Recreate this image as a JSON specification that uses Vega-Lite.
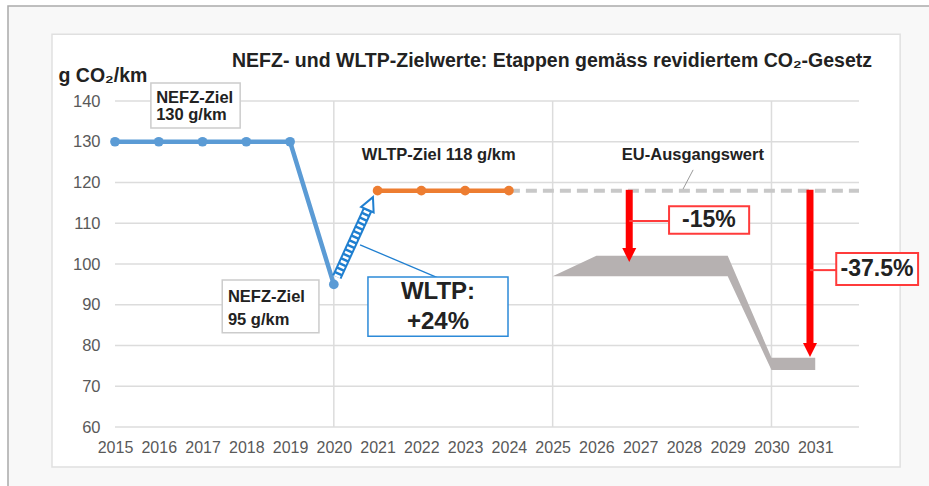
{
  "$schema": "https://vega.github.io/schema/vega-lite/v6.json",
  "width": 744,
  "height": 326,
  "autosize": {"type": "none"},
  "padding": {"left": 115, "top": 101, "right": 70, "bottom": 59},
  "background": "#ffffff",
  "config": {"view": {"stroke": null}, "font": "Liberation Sans"},
  "title": {
    "text": "NEFZ- und WLTP-Zielwerte: Etappen gemäss revidiertem CO₂-Gesetz",
    "anchor": "start",
    "frame": "group",
    "dx": 117,
    "dy": 66,
    "offset": 0,
    "fontSize": 19.5,
    "fontWeight": "bold",
    "color": "#222222",
    "font": "Liberation Sans"
  },
  "datasets": {
    "frame": [{"x": 2012.555, "x2": 2040, "y": 163.3, "y2": 30}],
    "panel": [{"x": 2013.56, "x2": 2032.94, "y": 156.4, "y2": 50.2}],
    "hgrid": [{"y": 60}, {"y": 70}, {"y": 80}, {"y": 90}, {"y": 100}, {"y": 110}, {"y": 120}, {"y": 130}, {"y": 140}],
    "vgrid": [{"x": 2020}, {"x": 2025}, {"x": 2030}],
    "band": [
      {"x": 2025, "y": 97, "y2": 97},
      {"x": 2026, "y": 97, "y2": 102},
      {"x": 2029, "y": 97, "y2": 102},
      {"x": 2030, "y": 74, "y2": 77},
      {"x": 2031, "y": 74, "y2": 77}
    ],
    "eu": [{"x": 2024, "y": 118}, {"x": 2032, "y": 118}],
    "nefz": [
      {"x": 2015, "y": 130}, {"x": 2016, "y": 130}, {"x": 2017, "y": 130},
      {"x": 2018, "y": 130}, {"x": 2019, "y": 130}, {"x": 2020, "y": 95}
    ],
    "wltp": [{"x": 2021, "y": 118}, {"x": 2022, "y": 118}, {"x": 2023, "y": 118}, {"x": 2024, "y": 118}],
    "hatch": [{"x": 2020.07, "y": 96.8, "x2": 2020.77, "y2": 113.3}],
    "hatchHead": [{"x": 2020.83, "y": 114.87}],
    "blueConn": [{"x": 2020.6, "y": 104.7, "x2": 2022.38, "y2": 96.6}],
    "grayConn": [{"x": 2028.21, "y": 123.1, "x2": 2027.98, "y2": 118.4}],
    "redShaft": [
      {"x": 2026.75, "y": 118.2, "x2": 2026.75, "y2": 103.5},
      {"x": 2030.88, "y": 118.2, "x2": 2030.88, "y2": 80.5}
    ],
    "redHead": [{"x": 2026.75, "y": 102.2}, {"x": 2030.88, "y": 78.9}],
    "redConn": [
      {"x": 2026.75, "y": 110.55, "x2": 2027.66, "y2": 110.55},
      {"x": 2030.88, "y": 98.5, "x2": 2031.48, "y2": 98.5}
    ],
    "grayBox": [
      {"x": 2015.82, "x2": 2017.86, "y": 144.4, "y2": 133.4},
      {"x": 2017.45, "x2": 2019.66, "y": 96.1, "y2": 83.1}
    ],
    "blueBox": [{"x": 2020.78, "x2": 2023.98, "y": 96.8, "y2": 82.3}],
    "redBox": [
      {"x": 2027.66, "x2": 2029.49, "y": 114.2, "y2": 107.4},
      {"x": 2031.48, "x2": 2033.35, "y": 102.7, "y2": 94.85}
    ],
    "labels": [
      {"x": 2015.94, "y": 140.7, "t": "NEFZ-Ziel"},
      {"x": 2015.94, "y": 136.6, "t": "130 g/km"},
      {"x": 2017.58, "y": 91.9, "t": "NEFZ-Ziel"},
      {"x": 2017.58, "y": 86.3, "t": "95 g/km"},
      {"x": 2020.64, "y": 126.75, "t": "WLTP-Ziel 118 g/km"},
      {"x": 2026.58, "y": 126.75, "t": "EU-Ausgangswert"}
    ],
    "bigLabels": [
      {"x": 2022.38, "y": 93.1, "t": "WLTP:"},
      {"x": 2022.38, "y": 85.8, "t": "+24%"}
    ],
    "pctLabels": [
      {"x": 2028.57, "y": 110.8, "t": "-15%"},
      {"x": 2032.41, "y": 98.8, "t": "-37.5%"}
    ]
  },
  "layer": [
    {
      "data": {"name": "frame"},
      "mark": {"type": "rect", "fill": "#f8f8f8", "stroke": "#aaaaaa", "strokeWidth": 1.5},
      "encoding": {
        "x": {"field": "x", "type": "quantitative", "scale": {"domain": [2015, 2032], "nice": false, "zero": false},
          "axis": {"title": null, "values": [2015, 2016, 2017, 2018, 2019, 2020, 2021, 2022, 2023, 2024, 2025, 2026, 2027, 2028, 2029, 2030, 2031],
            "format": "d", "grid": false, "ticks": false, "domain": false, "labelPadding": 12, "labelFontSize": 16,
            "labelColor": "#595959", "labelFont": "Liberation Sans", "labelOverlap": false, "labelFlush": false, "zindex": 1}},
        "x2": {"field": "x2"},
        "y": {"field": "y", "type": "quantitative", "scale": {"domain": [60, 140], "nice": false, "zero": false},
          "axis": {"title": "g CO₂/km", "values": [60, 70, 80, 90, 100, 110, 120, 130, 140], "grid": false, "ticks": false, "domain": false,
            "labelPadding": 15, "labelFontSize": 16.5, "labelColor": "#595959", "labelFont": "Liberation Sans", "zindex": 1, "labelFlush": false,
            "titleAngle": 0, "titleAlign": "left", "titleBaseline": "middle", "titleX": -57, "titleY": -26,
            "titleFontSize": 19.5, "titleFont": "Liberation Sans", "titleFontWeight": "bold", "titleColor": "#222222"}},
        "y2": {"field": "y2"}
      }
    },
    {
      "data": {"name": "panel"},
      "mark": {"type": "rect", "fill": "#ffffff", "stroke": "#e0e0e0", "strokeWidth": 1.5},
      "encoding": {
        "x": {"field": "x", "type": "quantitative"}, "x2": {"field": "x2"},
        "y": {"field": "y", "type": "quantitative"}, "y2": {"field": "y2"}
      }
    },
    {
      "data": {"name": "hgrid"},
      "mark": {"type": "rule", "color": "#dcdcdc", "strokeWidth": 1.5},
      "encoding": {"y": {"field": "y", "type": "quantitative"}}
    },
    {
      "data": {"name": "vgrid"},
      "mark": {"type": "rule", "color": "#dcdcdc", "strokeWidth": 1.5},
      "encoding": {"x": {"field": "x", "type": "quantitative"}}
    },
    {
      "data": {"name": "band"},
      "mark": {"type": "area", "color": "#b6b1b1", "opacity": 1},
      "encoding": {
        "x": {"field": "x", "type": "quantitative"},
        "y": {"field": "y", "type": "quantitative"}, "y2": {"field": "y2"}
      }
    },
    {
      "data": {"name": "eu"},
      "mark": {"type": "line", "color": "#c8c8c8", "strokeWidth": 4, "strokeDash": [11, 6]},
      "encoding": {"x": {"field": "x", "type": "quantitative"}, "y": {"field": "y", "type": "quantitative"}}
    },
    {
      "data": {"name": "nefz"},
      "mark": {"type": "line", "color": "#5b9bd5", "strokeWidth": 4.5},
      "encoding": {"x": {"field": "x", "type": "quantitative"}, "y": {"field": "y", "type": "quantitative"}}
    },
    {
      "data": {"name": "nefz"},
      "mark": {"type": "point", "shape": "circle", "filled": true, "color": "#5b9bd5", "size": 95, "opacity": 1},
      "encoding": {"x": {"field": "x", "type": "quantitative"}, "y": {"field": "y", "type": "quantitative"}}
    },
    {
      "data": {"name": "wltp"},
      "mark": {"type": "line", "color": "#ed7d31", "strokeWidth": 4.5},
      "encoding": {"x": {"field": "x", "type": "quantitative"}, "y": {"field": "y", "type": "quantitative"}}
    },
    {
      "data": {"name": "wltp"},
      "mark": {"type": "point", "shape": "circle", "filled": true, "color": "#ed7d31", "size": 95, "opacity": 1},
      "encoding": {"x": {"field": "x", "type": "quantitative"}, "y": {"field": "y", "type": "quantitative"}}
    },
    {
      "data": {"name": "hatch"},
      "mark": {"type": "rule", "color": "#1f7fd0", "strokeWidth": 10},
      "encoding": {
        "x": {"field": "x", "type": "quantitative"}, "x2": {"field": "x2"},
        "y": {"field": "y", "type": "quantitative"}, "y2": {"field": "y2"}
      }
    },
    {
      "data": {"name": "hatch"},
      "mark": {"type": "rule", "color": "#ffffff", "strokeWidth": 6, "strokeDash": [2.5, 2.5]},
      "encoding": {
        "x": {"field": "x", "type": "quantitative"}, "x2": {"field": "x2"},
        "y": {"field": "y", "type": "quantitative"}, "y2": {"field": "y2"}
      }
    },
    {
      "data": {"name": "hatchHead"},
      "mark": {"type": "point", "shape": "M-1,1 L1,1 L0,-1 Z", "filled": true, "fill": "#ffffff", "stroke": "#1f7fd0", "strokeWidth": 2, "size": 190, "angle": 24, "opacity": 1},
      "encoding": {"x": {"field": "x", "type": "quantitative"}, "y": {"field": "y", "type": "quantitative"}}
    },
    {
      "data": {"name": "blueConn"},
      "mark": {"type": "rule", "color": "#1f7fd0", "strokeWidth": 1.3},
      "encoding": {
        "x": {"field": "x", "type": "quantitative"}, "x2": {"field": "x2"},
        "y": {"field": "y", "type": "quantitative"}, "y2": {"field": "y2"}
      }
    },
    {
      "data": {"name": "grayConn"},
      "mark": {"type": "rule", "color": "#9a9a9a", "strokeWidth": 1},
      "encoding": {
        "x": {"field": "x", "type": "quantitative"}, "x2": {"field": "x2"},
        "y": {"field": "y", "type": "quantitative"}, "y2": {"field": "y2"}
      }
    },
    {
      "data": {"name": "redShaft"},
      "mark": {"type": "rule", "color": "#ff0000", "strokeWidth": 7},
      "encoding": {
        "x": {"field": "x", "type": "quantitative"}, "x2": {"field": "x2"},
        "y": {"field": "y", "type": "quantitative"}, "y2": {"field": "y2"}
      }
    },
    {
      "data": {"name": "redHead"},
      "mark": {"type": "point", "shape": "M-1,-1 L1,-1 L0,1 Z", "filled": true, "color": "#ff0000", "size": 196, "opacity": 1},
      "encoding": {"x": {"field": "x", "type": "quantitative"}, "y": {"field": "y", "type": "quantitative"}}
    },
    {
      "data": {"name": "redConn"},
      "mark": {"type": "rule", "color": "#ff3b3b", "strokeWidth": 2},
      "encoding": {
        "x": {"field": "x", "type": "quantitative"}, "x2": {"field": "x2"},
        "y": {"field": "y", "type": "quantitative"}, "y2": {"field": "y2"}
      }
    },
    {
      "data": {"name": "grayBox"},
      "mark": {"type": "rect", "fill": "#ffffff", "stroke": "#cccccc", "strokeWidth": 1.5},
      "encoding": {
        "x": {"field": "x", "type": "quantitative"}, "x2": {"field": "x2"},
        "y": {"field": "y", "type": "quantitative"}, "y2": {"field": "y2"}
      }
    },
    {
      "data": {"name": "blueBox"},
      "mark": {"type": "rect", "fill": "#ffffff", "stroke": "#2c8ad8", "strokeWidth": 1.5},
      "encoding": {
        "x": {"field": "x", "type": "quantitative"}, "x2": {"field": "x2"},
        "y": {"field": "y", "type": "quantitative"}, "y2": {"field": "y2"}
      }
    },
    {
      "data": {"name": "redBox"},
      "mark": {"type": "rect", "fill": "#ffffff", "stroke": "#ff3b3b", "strokeWidth": 2},
      "encoding": {
        "x": {"field": "x", "type": "quantitative"}, "x2": {"field": "x2"},
        "y": {"field": "y", "type": "quantitative"}, "y2": {"field": "y2"}
      }
    },
    {
      "data": {"name": "labels"},
      "mark": {"type": "text", "align": "left", "baseline": "middle", "fontSize": 16.5, "fontWeight": "bold", "font": "Liberation Sans", "color": "#222222"},
      "encoding": {
        "x": {"field": "x", "type": "quantitative"}, "y": {"field": "y", "type": "quantitative"},
        "text": {"field": "t", "type": "nominal"}
      }
    },
    {
      "data": {"name": "bigLabels"},
      "mark": {"type": "text", "align": "center", "baseline": "middle", "fontSize": 24, "fontWeight": "bold", "font": "Liberation Sans", "color": "#222222"},
      "encoding": {
        "x": {"field": "x", "type": "quantitative"}, "y": {"field": "y", "type": "quantitative"},
        "text": {"field": "t", "type": "nominal"}
      }
    },
    {
      "data": {"name": "pctLabels"},
      "mark": {"type": "text", "align": "center", "baseline": "middle", "fontSize": 23, "fontWeight": "bold", "font": "Liberation Sans", "color": "#222222"},
      "encoding": {
        "x": {"field": "x", "type": "quantitative"}, "y": {"field": "y", "type": "quantitative"},
        "text": {"field": "t", "type": "nominal"}
      }
    }
  ]
}
